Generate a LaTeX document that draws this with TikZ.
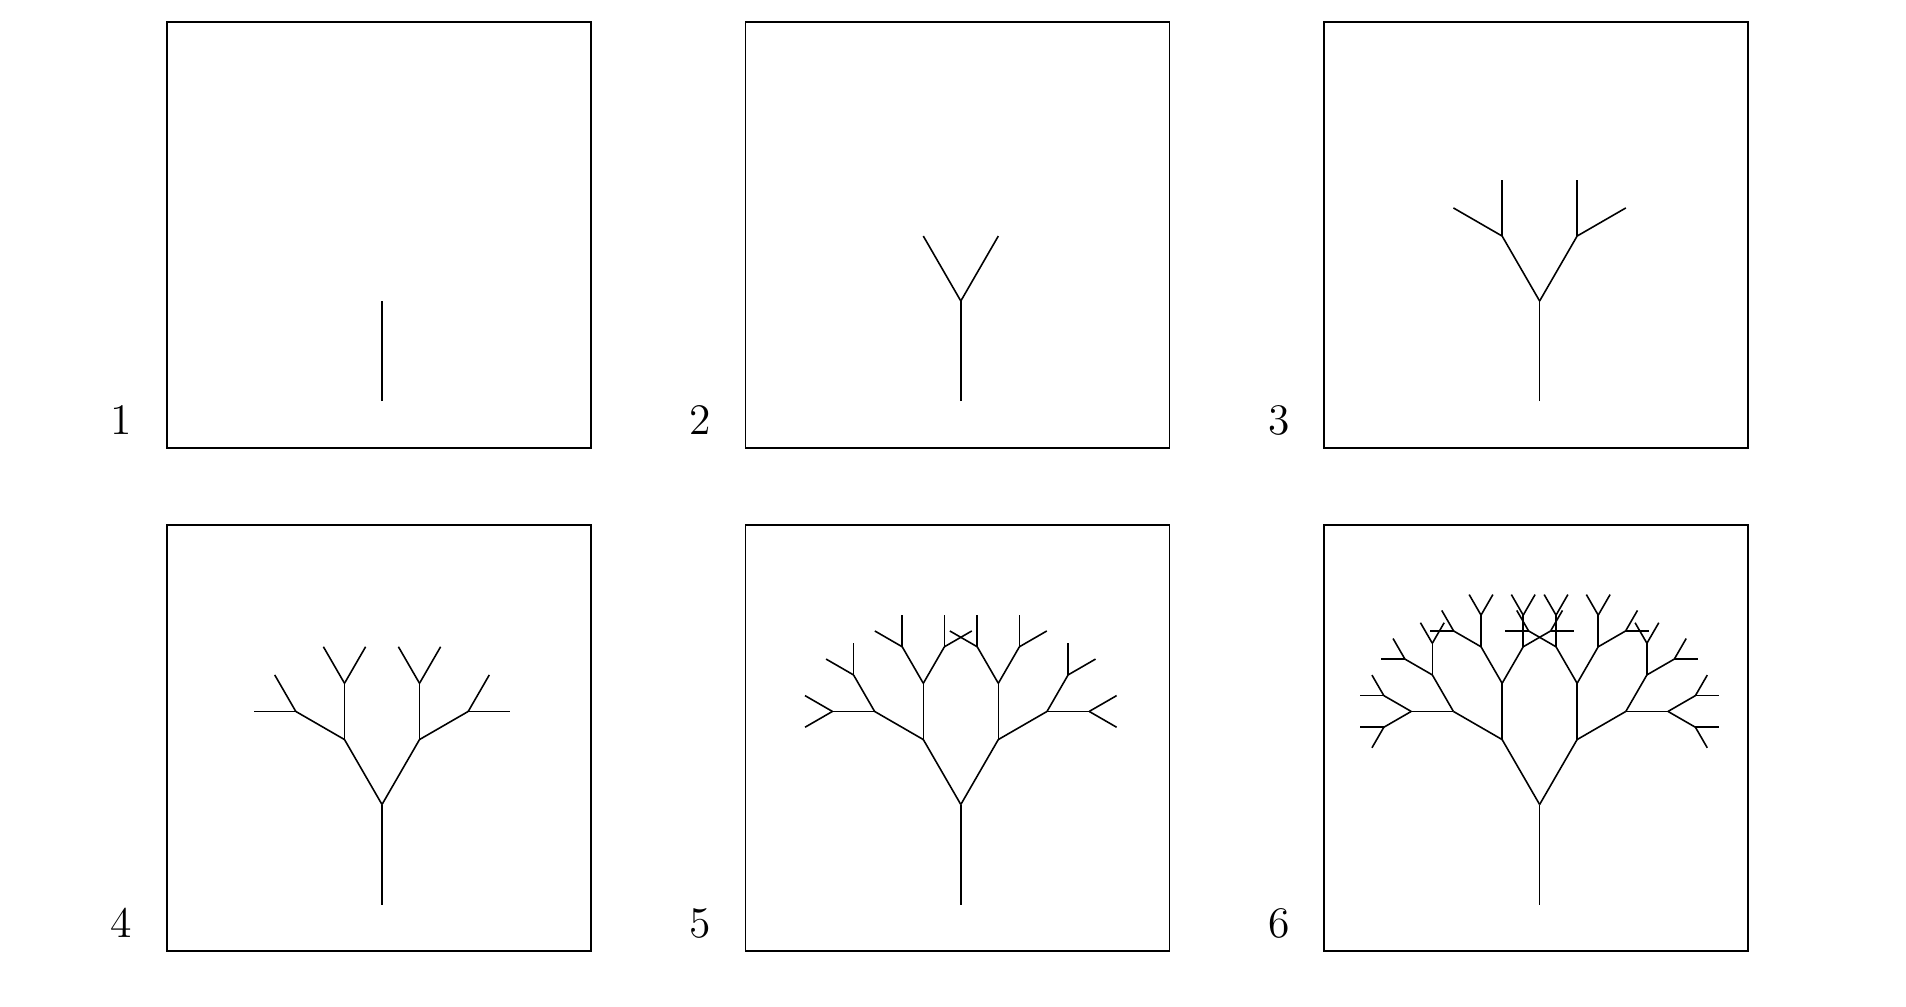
\documentclass[tikz,border=0pt]{standalone}

\tikzset{
    panelbox/.style={line width=0.55pt},
    limb/.style={line width=0.45pt},
    panellabel/.style={anchor=base,inner sep=0pt,font=\fontsize{12.4}{14}\selectfont}
}

% one limb of the tree, then two smaller ones on its tip
\newcommand\treelimb[1]{%
    \draw[limb] (0,0) -- (0,1);
    \ifnum#1>1
        \foreach \turn in {30,-30} {
            \begin{scope}[shift={(0,1)},rotate=\turn,scale=0.75]
                \expandafter\treelimb\expandafter{\the\numexpr#1-1\relax}
            \end{scope}
        }
    \fi}

\begin{document}
\begin{tikzpicture}
            \useasboundingbox (0,0) rectangle (19.06,10.06);

            \foreach \n/\col/\row in {1/0/1,2/1/1,3/2/1,4/0/0,5/1/0,6/2/0} {
                \begin{scope}[shift={(1.667+5.788*\col,0.548+5.035*\row)}]
                    \draw[panelbox] (0,0) rectangle (4.24,4.26);
                    \node[panellabel] (label\n) at (-0.454,0.134) {\n};
                    \begin{scope}[shift={(2.153,0.467)}]
                        \treelimb{\n}
                    \end{scope}
                \end{scope}
            }
        \end{tikzpicture}
\end{document}
